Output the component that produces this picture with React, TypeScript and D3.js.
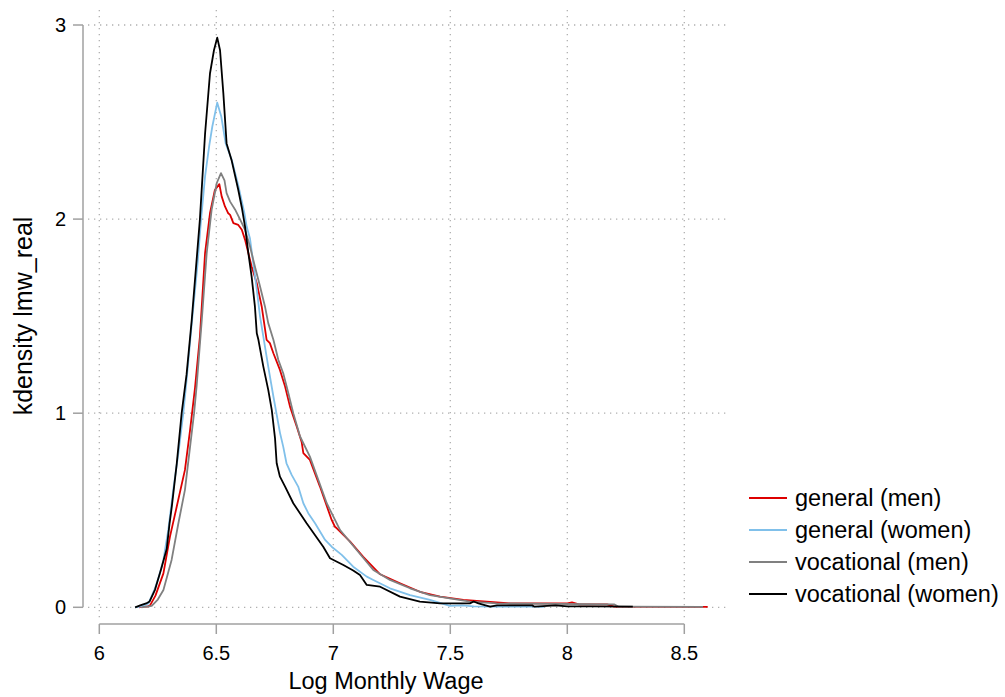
import React from "react";
import * as d3 from "d3";

type Pt = [number, number];

const xTicks = [6, 6.5, 7, 7.5, 8, 8.5];
const yTicks = [0, 1, 2, 3];
const xTitle = "Log Monthly Wage";
const yTitle = "kdensity lmw_real";

const generalMen: Pt[] = [
  [6.17, 0], [6.19, 0.005], [6.205, 0.003], [6.217, 0.01], [6.24, 0.06], [6.274, 0.175],
  [6.302, 0.364], [6.331, 0.519], [6.366, 0.708], [6.388, 0.914], [6.409, 1.13], [6.43, 1.395],
  [6.452, 1.825], [6.473, 2.03], [6.494, 2.15], [6.513, 2.18], [6.523, 2.117], [6.537, 2.065],
  [6.551, 2.03], [6.559, 2.022], [6.573, 1.979], [6.594, 1.97], [6.609, 1.945], [6.623, 1.893],
  [6.637, 1.825], [6.651, 1.756], [6.673, 1.67], [6.694, 1.55], [6.715, 1.378], [6.729, 1.361],
  [6.744, 1.309], [6.772, 1.223], [6.794, 1.137], [6.815, 1.034], [6.844, 0.93], [6.865, 0.85],
  [6.872, 0.794], [6.9, 0.759], [6.943, 0.622], [6.993, 0.45], [7.007, 0.415], [7.015, 0.407],
  [7.071, 0.34], [7.128, 0.26], [7.2, 0.17], [7.285, 0.124], [7.37, 0.08], [7.456, 0.055],
  [7.556, 0.038], [7.656, 0.029], [7.755, 0.02], [8.0, 0.02], [8.02, 0.025], [8.05, 0.015],
  [8.17, 0.015], [8.2, 0.003], [8.6, 0.002],
];

const generalWomen: Pt[] = [
  [6.153, 0], [6.18, 0.005], [6.21, 0.02], [6.238, 0.098], [6.255, 0.16], [6.274, 0.244],
  [6.295, 0.4], [6.316, 0.605], [6.338, 0.794], [6.359, 1.0], [6.373, 1.17], [6.395, 1.46],
  [6.42, 1.77], [6.435, 2.0], [6.452, 2.22], [6.47, 2.38], [6.483, 2.477], [6.504, 2.6],
  [6.521, 2.53], [6.54, 2.39], [6.566, 2.306], [6.595, 2.168], [6.62, 2.03], [6.63, 1.96],
  [6.644, 1.9], [6.658, 1.773], [6.673, 1.636], [6.687, 1.498], [6.701, 1.395], [6.722, 1.24],
  [6.744, 1.086], [6.772, 0.9], [6.786, 0.828], [6.8, 0.742], [6.822, 0.682], [6.85, 0.622],
  [6.872, 0.536], [6.893, 0.485], [6.922, 0.433], [6.965, 0.347], [6.993, 0.312], [7.036, 0.27],
  [7.085, 0.209], [7.143, 0.158], [7.171, 0.141], [7.242, 0.098], [7.328, 0.063], [7.413, 0.038],
  [7.498, 0.007], [7.55, 0.01], [7.6, 0.005], [7.7, 0.003], [7.8, 0.005], [7.9, 0.002],
];

const vocationalMen: Pt[] = [
  [6.18, 0], [6.224, 0.007], [6.25, 0.04], [6.274, 0.089], [6.309, 0.244], [6.338, 0.433],
  [6.366, 0.605], [6.388, 0.828], [6.405, 1.0], [6.416, 1.14], [6.438, 1.48], [6.459, 1.825],
  [6.48, 2.048], [6.502, 2.186], [6.52, 2.237], [6.535, 2.2], [6.544, 2.134], [6.559, 2.09],
  [6.58, 2.05], [6.601, 2.0], [6.623, 1.945], [6.644, 1.859], [6.665, 1.756], [6.687, 1.653],
  [6.708, 1.55], [6.722, 1.464], [6.744, 1.378], [6.765, 1.275], [6.786, 1.206], [6.808, 1.103],
  [6.829, 1.0], [6.858, 0.88], [6.9, 0.776], [6.972, 0.536], [6.986, 0.502], [7.029, 0.398],
  [7.1, 0.295], [7.171, 0.192], [7.242, 0.141], [7.328, 0.098], [7.413, 0.063], [7.498, 0.046],
  [7.584, 0.029], [7.698, 0.02], [8.2, 0.015], [8.22, 0.003], [8.58, 0.002],
];

const vocationalWomen: Pt[] = [
  [6.153, 0], [6.175, 0.01], [6.2, 0.02], [6.215, 0.03], [6.238, 0.09], [6.265, 0.2],
  [6.288, 0.3], [6.3, 0.43], [6.31, 0.52], [6.331, 0.74], [6.352, 1.0], [6.373, 1.2],
  [6.395, 1.48], [6.43, 2.0], [6.452, 2.44], [6.473, 2.75], [6.49, 2.87], [6.504, 2.935],
  [6.516, 2.87], [6.53, 2.65], [6.544, 2.39], [6.566, 2.3], [6.594, 2.15], [6.609, 2.06],
  [6.623, 1.96], [6.637, 1.825], [6.651, 1.704], [6.665, 1.55], [6.673, 1.412], [6.68, 1.378],
  [6.701, 1.24], [6.722, 1.12], [6.737, 1.017], [6.751, 0.87], [6.758, 0.742], [6.772, 0.673],
  [6.794, 0.622], [6.829, 0.536], [6.886, 0.433], [6.957, 0.312], [6.986, 0.253], [7.043, 0.218],
  [7.085, 0.19], [7.114, 0.166], [7.143, 0.115], [7.2, 0.106], [7.285, 0.055], [7.37, 0.029],
  [7.456, 0.02], [7.584, 0.02], [7.6, 0.03], [7.62, 0.02], [7.67, 0.003], [7.7, 0.01],
  [7.85, 0.01], [7.86, 0.003], [7.95, 0.01], [8.0, 0.005], [8.1, 0.005], [8.28, 0.003],
];

const seriesNames = ["general (men)", "general (women)", "vocational (men)", "vocational (women)"];
const seriesColors = ["#dd0000", "#80c0ea", "#808080", "#000000"];
const seriesData = [generalMen, generalWomen, vocationalMen, vocationalWomen];

export default function App() {
  const W = 1005, H = 697;
  const x = d3.scaleLinear().domain([6, 8.5]).range([99.3, 684.3]);
  const y = d3.scaleLinear().domain([0, 3]).range([607.3, 25]);
  const line = d3.line<Pt>().x((d) => x(d[0])).y((d) => y(d[1]));
  const axisColor = "#a0a0a0";
  const font = "'Liberation Sans', Arial, sans-serif";
  const gridLeft = 88, gridRight = 727, gridTop = 10, gridBottom = 620;
  const axisX = 83, axisY = 624;
  const legX = 749, legY0 = 498, legDy = 32;

  return (
    <svg width={W} height={H} style={{ position: "absolute", left: 0, top: 0, background: "#fff" }} fontFamily={font}>
      <rect width={W} height={H} fill="#fff" />
      {xTicks.map((t) => (
        <line key={"gx" + t} x1={x(t)} x2={x(t)} y1={gridTop} y2={gridBottom} stroke="#b0b0b0" strokeWidth={1.3} strokeDasharray="1.3 4.7" />
      ))}
      {yTicks.map((t) => (
        <line key={"gy" + t} x1={gridLeft} x2={gridRight} y1={y(t)} y2={y(t)} stroke="#b0b0b0" strokeWidth={1.3} strokeDasharray="1.3 4.7" />
      ))}
      <line x1={axisX} x2={axisX} y1={y(3)} y2={y(0)} stroke={axisColor} strokeWidth={1.5} />
      {yTicks.map((t) => (
        <g key={"yt" + t}>
          <line x1={axisX - 10} x2={axisX} y1={y(t)} y2={y(t)} stroke={axisColor} strokeWidth={1.5} />
          <text x={66} y={y(t)} dy="0.35em" textAnchor="end" fontSize={20} fill="#000">{t}</text>
        </g>
      ))}
      <line x1={x(6)} x2={x(8.5)} y1={axisY} y2={axisY} stroke={axisColor} strokeWidth={1.5} />
      {xTicks.map((t) => (
        <g key={"xt" + t}>
          <line x1={x(t)} x2={x(t)} y1={axisY} y2={axisY + 10} stroke={axisColor} strokeWidth={1.5} />
          <text x={x(t)} y={660} textAnchor="middle" fontSize={20} fill="#000">{String(t)}</text>
        </g>
      ))}
      <text x={386} y={689} textAnchor="middle" fontSize={23.5} fill="#000">{xTitle}</text>
      <text transform={`translate(32, 316) rotate(-90)`} textAnchor="middle" fontSize={25} fill="#000">{yTitle}</text>
      {seriesData.map((d, i) => (
        <path key={"s" + i} d={line(d) || ""} fill="none" stroke={seriesColors[i]} strokeWidth={1.8} strokeLinejoin="round" />
      ))}
      {seriesNames.map((n, i) => (
        <g key={"lg" + i}>
          <line x1={legX} x2={legX + 38} y1={legY0 + i * legDy} y2={legY0 + i * legDy} stroke={seriesColors[i]} strokeWidth={1.8} />
          <text x={legX + 46} y={legY0 + i * legDy} dy="0.35em" fontSize={23.5} fill="#000">{n}</text>
        </g>
      ))}
    </svg>
  );
}
